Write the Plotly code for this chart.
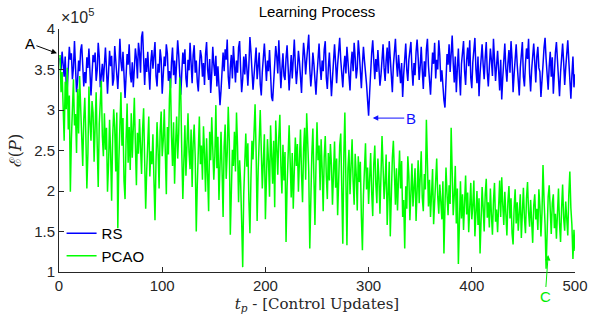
import numpy as np
import plotly.graph_objects as go

# RS cost values (units of 1e3)
rs = [
364,349,372,358,341,366,331,327,355,378,
362,370,338,352,385,343,322,336,361,348,
374,381,356,329,347,333,365,352,376,340,
318,344,368,359,371,336,349,383,366,328,
341,357,335,362,377,351,320,346,373,354,
367,330,338,379,362,344,326,353,388,360,
348,372,337,315,342,369,356,381,345,334,
359,328,351,376,364,339,383,371,346,390,
397,355,331,364,347,372,338,325,360,374,
351,368,384,342,329,357,346,375,363,320,
338,366,354,381,370,336,348,327,359,377,
343,361,332,353,386,368,342,319,347,371,
357,375,339,328,362,349,383,354,333,368,
380,346,361,335,323,352,374,366,341,358,
331,369,384,350,337,363,321,345,378,356,
342,367,329,354,335,306,324,358,371,348,
375,362,387,341,326,353,368,339,379,357,
334,361,346,377,385,351,322,338,366,344,
369,352,330,356,390,372,348,325,343,363,
377,338,355,371,332,318,347,364,382,359,
336,361,348,374,339,316,311,333,357,379,
366,345,386,358,327,351,370,342,337,364,
380,353,324,346,368,339,375,387,356,332,
349,373,360,335,321,357,383,368,344,362,
376,393,351,329,345,371,357,336,319,343,
368,382,354,337,361,348,375,385,340,326,
352,371,344,317,339,366,381,359,333,356,
374,389,362,342,328,353,367,345,378,360,
336,324,357,372,348,383,365,339,351,386,
370,343,327,356,378,361,349,332,312,293,
321,352,371,386,359,338,363,347,374,355,
330,343,367,381,352,336,361,377,345,385,
364,339,322,355,376,388,359,341,368,347,
333,358,316,344,370,382,349,336,362,373,
384,351,330,358,343,372,387,365,337,354,
378,349,326,360,341,375,388,355,334,319,
346,371,357,383,339,362,350,386,368,335,
349,325,312,303,338,369,356,381,347,364,
392,358,334,366,322,351,376,343,318,357,
372,385,348,331,362,377,354,386,340,327,
359,374,389,350,333,366,317,345,372,381,
356,338,365,384,347,329,353,376,361,342,
388,364,336,355,373,349,324,362,313,340,
367,382,351,335,358,374,346,385,363,322,
344,370,381,356,339,318,352,367,384,341,
329,357,376,363,388,345,323,350,371,382,
359,334,366,378,352,347,316,331,356,377,
389,363,338,325,354,372,341,365,320,349,
371,384,355,337,317,346,367,382,359,331,
352,374,386,361,335,314,343,366,328,344]

# PCAO cost values (units of 1e3)
pcao = [
368,322,347,284,262,335,301,352,276,318,
199,264,309,338,281,295,247,326,271,342,
303,258,231,289,315,270,203,246,329,284,
262,311,297,236,274,322,258,205,283,309,
336,268,243,296,251,278,199,232,288,247,
188,265,301,278,224,297,154,238,271,322,
256,290,212,190,263,308,235,279,226,296,
241,283,315,258,207,272,246,289,264,221,
276,302,238,178,226,261,292,218,249,233,
270,214,164,236,285,251,203,274,298,243,
262,301,226,196,279,245,314,339,268,231,
285,209,258,292,240,271,340,320,246,190,
237,281,219,263,296,248,227,276,205,259,
282,241,150,208,271,292,233,256,214,280,
247,199,265,229,175,273,238,291,256,214,
243,306,228,267,189,238,273,226,168,255,
282,215,247,304,262,146,208,251,231,273,
224,297,256,186,238,211,162,106,196,247,
271,230,259,188,148,216,262,239,281,307,
248,163,226,272,300,251,203,236,270,165,
219,264,238,193,281,246,209,262,180,287,
241,220,268,294,231,197,257,213,248,137,
205,253,281,236,192,247,178,225,266,231,
258,199,243,276,221,186,252,278,214,296,
261,224,129,197,246,277,215,158,231,285,
238,256,201,264,227,175,242,268,219,190,
247,213,258,232,183,225,261,204,240,170,
226,256,271,198,135,244,297,213,133,228,
251,196,238,264,212,183,246,221,176,243,
211,236,168,127,195,238,259,202,229,184,
217,247,198,169,233,256,209,185,240,216,
172,224,268,231,190,211,245,158,203,236,
144,196,241,262,209,183,228,176,215,250,
203,237,168,189,129,206,178,243,219,164,
197,234,181,210,228,163,204,238,185,216,
249,192,175,221,202,288,234,181,214,168,
196,227,159,186,217,240,193,172,208,188,
165,212,123,181,229,196,170,207,184,278,
225,170,195,231,160,203,110,178,212,166,
196,152,184,219,171,198,149,187,210,165,
182,213,144,173,200,158,191,123,168,205,
179,150,196,215,167,186,155,203,171,146,
188,210,162,177,149,195,213,168,217,183,
158,199,174,145,187,206,166,191,148,134,
179,202,160,186,151,173,196,142,181,204,
167,148,191,211,174,156,189,163,136,182,
196,165,178,152,202,181,144,173,232,189,
158,104,169,193,207,162,147,185,196,154,
172,141,188,203,160,137,178,208,166,151,
187,170,145,196,224,179,158,116,152,126]

x_ticks = [0, 100, 200, 300, 400, 500]
y_tickvals = [1e5, 1.5e5, 2e5, 2.5e5, 3e5, 3.5e5, 4e5]
y_ticktext = ["1", "1.5", "2", "2.5", "3", "3.5", "4"]

t = np.arange(1, len(rs) + 1)
AX = "#262626"
FONT = "Liberation Sans, Arial, Helvetica, sans-serif"
SERIF = "DejaVu Serif, Liberation Serif, serif"

fig = go.Figure()
fig.add_trace(go.Scatter(x=t, y=np.array(rs) * 1e3, mode="lines", name="RS",
                         line=dict(color="#0000FF", width=1.5)))
fig.add_trace(go.Scatter(x=t, y=np.array(pcao) * 1e3, mode="lines", name="PCAO",
                         line=dict(color="#00FF00", width=1.5)))

fig.update_layout(
    width=589, height=320,
    margin=dict(l=59, r=14, t=29, b=48, autoexpand=False),
    paper_bgcolor="white", plot_bgcolor="white",
    font=dict(family=FONT, size=15, color=AX),
    title=dict(text="Learning Process", x=0.5, xref="paper", xanchor="center",
               y=0.963, yref="container", yanchor="middle",
               font=dict(family=FONT, size=15, color="black")),
    showlegend=True,
    legend=dict(x=0.005, y=0.0, xanchor="left", yanchor="bottom",
                bgcolor="rgba(0,0,0,0)", borderwidth=0,
                font=dict(family=FONT, size=15, color="black"),
                itemwidth=30, tracegroupgap=0),
    xaxis=dict(range=[0, 500], tickvals=x_ticks, ticks="inside", ticklen=5,
               tickcolor=AX, showline=True, linecolor=AX, linewidth=1,
               showgrid=False, zeroline=False, mirror=False,
               tickfont=dict(family=FONT, size=15, color=AX),
               title=dict(text="<i>t</i><sub><i>p</i></sub> - [Control Updates]",
                          font=dict(family=SERIF, size=15, color=AX), standoff=5)),
    yaxis=dict(range=[1e5, 4e5], tickvals=y_tickvals, ticktext=y_ticktext,
               ticks="inside", ticklen=5, tickcolor=AX, showline=True,
               linecolor=AX, linewidth=1, showgrid=False, zeroline=False,
               mirror=False, tickfont=dict(family=FONT, size=15, color=AX),
               title=dict(text="ℰ(<i>P</i>)",
                          font=dict(family=SERIF, size=16, color=AX), standoff=8)),
)

fig.add_annotation(x=0, y=1, xref="paper", yref="paper", xanchor="left",
                   yanchor="bottom", yshift=1, showarrow=False,
                   text="×10<sup>5</sup>", font=dict(family=FONT, size=16, color=AX))

fig.add_annotation(x=-0.004, y=3.70e5, xref="paper", yref="y", text="A",
                   showarrow=True, ax=-27, ay=-10, arrowhead=2, arrowsize=1.1,
                   arrowwidth=1, arrowcolor="black",
                   font=dict(family=FONT, size=15, color="black"))
fig.add_annotation(x=304, y=2.90e5, xref="x", yref="y", text="B",
                   showarrow=True, ax=38, ay=0, arrowhead=2, arrowsize=1.1,
                   arrowwidth=1, arrowcolor="#1010FF",
                   font=dict(family=FONT, size=15, color="#1010FF"))
fig.add_annotation(x=474, y=1.21e5, xref="x", yref="y", text="C",
                   showarrow=True, ax=-3, ay=42, arrowhead=2, arrowsize=1.1,
                   arrowwidth=1, arrowcolor="#00EE00",
                   font=dict(family=FONT, size=15, color="#00EE00"))

fig.write_html("out.html")
